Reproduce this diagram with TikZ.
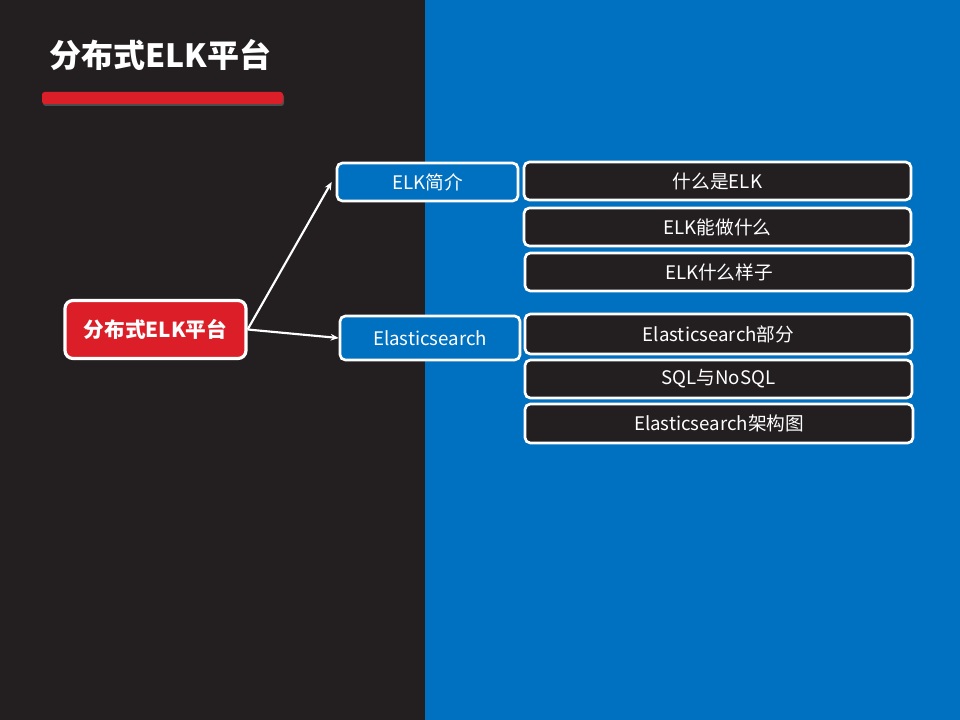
\documentclass[tikz,border=0pt]{standalone}
\usepackage{fontspec}
\setmainfont{Noto Sans CJK SC}
\usetikzlibrary{arrows.meta}
\definecolor{darkbg}{HTML}{231F20}
\definecolor{bluebg}{HTML}{0070C0}
\definecolor{redc}{HTML}{DC1E28}
\begin{document}
\begin{tikzpicture}[x=0.75pt,y=-0.75pt,
  box/.style={draw=white,line width=2pt,rounded corners=4pt,text=white,inner sep=0pt,font=\fontsize{14}{16}\selectfont},
  mid/.style={box,fill=bluebg},
  leaf/.style={box,fill=darkbg},
  conn/.style={draw=white,line width=1.6pt,-{Stealth[length=6pt,width=5pt]}}]
\useasboundingbox (0,0) rectangle (960,720);
\fill[darkbg] (0,0) rectangle (425,720);
\fill[bluebg] (425,0) rectangle (960,720);
\node[text=white,font=\fontsize{24}{28}\selectfont\bfseries,anchor=west,inner sep=0pt] (title) at (49,55) {分布式ELK平台};
\fill[black!70,rounded corners=2pt] (43,94) rectangle (284,106);
\fill[redc,rounded corners=2pt] (42,92) rectangle (283,104);
\node[box,fill=redc,line width=2.4pt,rounded corners=6pt,font=\fontsize{15.5}{18}\selectfont\bfseries,minimum width=135.75pt,minimum height=43.5pt] (root) at (155.5,329.5) {分布式ELK平台};
\node[mid,minimum width=135.75pt,minimum height=28.5pt] (intro) at (427.5,182) {ELK简介};
\node[mid,minimum width=135pt,minimum height=33pt] (es) at (430,338) {Elasticsearch};
\node[leaf,minimum width=290.25pt,minimum height=28.5pt] (l1) at (717.5,181) {什么是ELK};
\node[leaf,minimum width=290.25pt,minimum height=28.5pt] (l2) at (717.5,227) {ELK能做什么};
\node[leaf,minimum width=291pt,minimum height=28.5pt] (l3) at (719,272) {ELK什么样子};
\node[leaf,minimum width=290.25pt,minimum height=30pt] (l4) at (718.5,334) {Elasticsearch部分};
\node[leaf,minimum width=290.25pt,minimum height=28.5pt] (l5) at (718.5,379) {SQL与NoSQL};
\node[leaf,minimum width=291pt,minimum height=29.25pt] (l6) at (719,423.5) {Elasticsearch架构图};
\draw[conn] (root.east) -- ([xshift=-3pt]intro.west);
\draw[conn] (root.east) -- (es.west);
\end{tikzpicture}
\end{document}
